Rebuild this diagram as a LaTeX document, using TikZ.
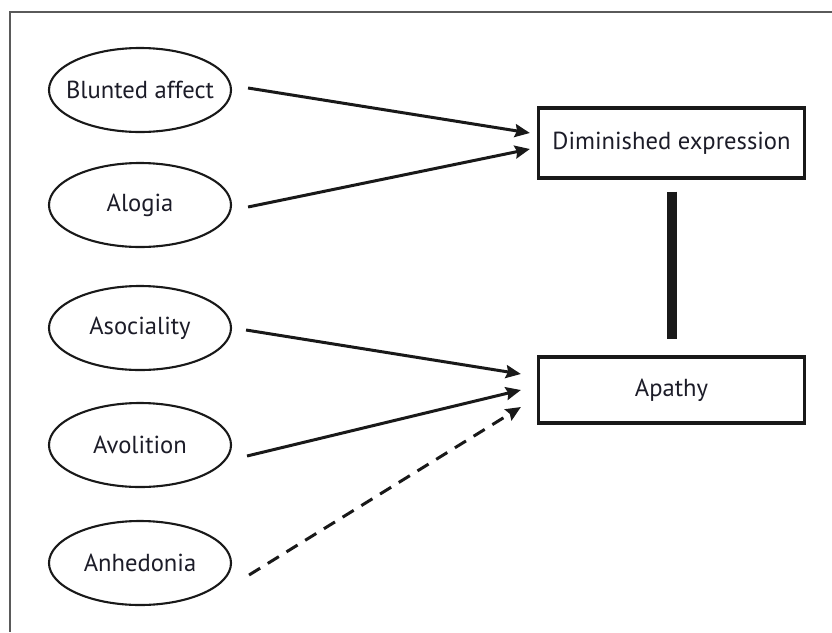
\documentclass[tikz,border=0pt]{standalone}
\usepackage{fontspec}
\setmainfont{PT Sans}
\usetikzlibrary{shapes.geometric,arrows.meta,calc}
\definecolor{txt}{HTML}{1C1C28}
\definecolor{frame}{HTML}{5A5A5A}
\newcommand{\ctrtext}[1]{\makebox[0pt][c]{#1}}
\tikzset{
  oval/.style={ellipse, draw=black!90, line width=2.1pt, inner sep=0pt,
    minimum width=182pt, minimum height=84pt, text=txt, font=\fontsize{24.6}{28}\selectfont},
  sbox/.style={rectangle, draw=black!90, line width=3.2pt, inner sep=0pt,
    minimum width=266pt, text=txt, font=\fontsize{24.6}{28}\selectfont},
  link/.style={line width=3pt, draw=black!90,
    -{Stealth[length=15pt,width=13pt,inset=2pt]}},
  dlink/.style={link, dash pattern=on 13pt off 9pt},
  bar/.style={line width=10pt, draw=black!90}
}
\begin{document}
\begin{tikzpicture}[x=1pt,y=-1pt]
\useasboundingbox (0,0) rectangle (832,632);
\fill[white] (0,0) rectangle (832,632);
\draw[frame, line width=2pt] (832,12) -- (10,12) -- (10,632);

\node[oval] (blunt) at (140,90) {\ctrtext{Blunted affect}};
\node[oval] (alog) at (140,205) {\ctrtext{Alogia}};
\node[oval] (asoc) at (140,328) {\ctrtext{Asociality}};
\node[oval] (avol) at (140,445) {\ctrtext{Avolition}};
\node[oval] (anhe) at (140,563) {\ctrtext{Anhedonia}};

\node[sbox, minimum height=70pt] (dim) at (671.5,143) {Diminished expression};
\node[sbox, minimum height=66pt] (apa) at (671.5,390) {Apathy};

\coordinate (d1) at ($(dim.west)+(-7,-10)$);
\coordinate (d2) at ($(dim.west)+(-7,6)$);
\coordinate (a1) at ($(apa.west)+(-16,-16)$);
\coordinate (a2) at ($(apa.west)+(-16,0)$);
\coordinate (a3) at ($(apa.west)+(-16,17)$);

\draw[link] ($(blunt.east)+(16,-2)$) -- (d1);
\draw[link] ($(alog.east)+(16,2)$) -- (d2);
\draw[link] ($(asoc.east)+(14,2)$) -- (a1);
\draw[link] ($(avol.east)+(15,11)$) -- (a2);
\draw[dlink] ($(anhe.east)+(17,12)$) -- (a3);

\draw[bar] ($(dim.south)+(0,12)$) -- ($(apa.north)+(0,-16)$);
\end{tikzpicture}
\end{document}
